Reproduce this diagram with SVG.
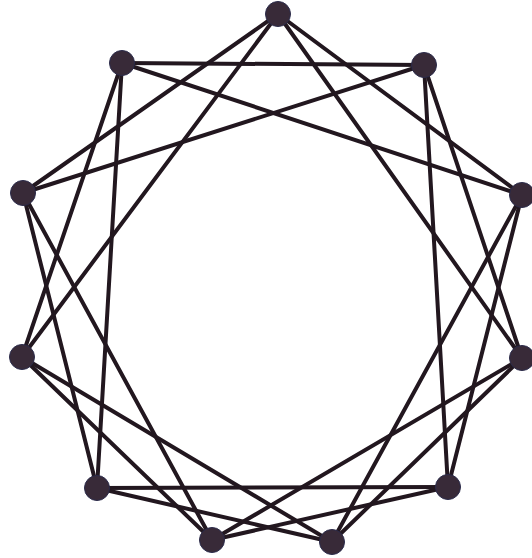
<svg xmlns="http://www.w3.org/2000/svg" width="532" height="558" viewBox="0 0 532 558">
<style>
.e{stroke:#22171f;stroke-width:4;stroke-linecap:round;fill:none}
.n{fill:#382a38;stroke:#2a2a4a;stroke-width:1}
</style>
<rect width="532" height="558" fill="#ffffff"/>
<g id="edges">
<line class="e" x1="278" y1="14" x2="522" y2="195"/>
<line class="e" x1="278" y1="14" x2="522" y2="358"/>
<line class="e" x1="424" y1="65" x2="522" y2="358"/>
<line class="e" x1="424" y1="65" x2="448" y2="487"/>
<line class="e" x1="522" y1="195" x2="448" y2="487"/>
<line class="e" x1="522" y1="195" x2="332" y2="542"/>
<line class="e" x1="522" y1="358" x2="332" y2="542"/>
<line class="e" x1="522" y1="358" x2="212" y2="540"/>
<line class="e" x1="448" y1="487" x2="212" y2="540"/>
<line class="e" x1="448" y1="487" x2="97" y2="488"/>
<line class="e" x1="332" y1="542" x2="97" y2="488"/>
<line class="e" x1="332" y1="542" x2="22" y2="357"/>
<line class="e" x1="212" y1="540" x2="22" y2="357"/>
<line class="e" x1="212" y1="540" x2="23" y2="193"/>
<line class="e" x1="97" y1="488" x2="23" y2="193"/>
<line class="e" x1="97" y1="488" x2="122" y2="63"/>
<line class="e" x1="22" y1="357" x2="122" y2="63"/>
<line class="e" x1="22" y1="357" x2="278" y2="14"/>
<line class="e" x1="23" y1="193" x2="278" y2="14"/>
<line class="e" x1="23" y1="193" x2="424" y2="65"/>
<line class="e" x1="122" y1="63" x2="424" y2="65"/>
<line class="e" x1="122" y1="63" x2="522" y2="195"/>
</g>
<g id="nA"><circle class="n" cx="278" cy="14" r="12.5"/></g>
<g id="nB"><circle class="n" cx="424" cy="65" r="12.5"/></g>
<g id="nC"><circle class="n" cx="522" cy="195" r="12.5"/></g>
<g id="nD"><circle class="n" cx="522" cy="358" r="12.5"/></g>
<g id="nE"><circle class="n" cx="448" cy="487" r="12.5"/></g>
<g id="nF"><circle class="n" cx="332" cy="542" r="12.5"/></g>
<g id="nG"><circle class="n" cx="212" cy="540" r="12.5"/></g>
<g id="nH"><circle class="n" cx="97" cy="488" r="12.5"/></g>
<g id="nI"><circle class="n" cx="22" cy="357" r="12.5"/></g>
<g id="nJ"><circle class="n" cx="23" cy="193" r="12.5"/></g>
<g id="nK"><circle class="n" cx="122" cy="63" r="12.5"/></g>
</svg>
